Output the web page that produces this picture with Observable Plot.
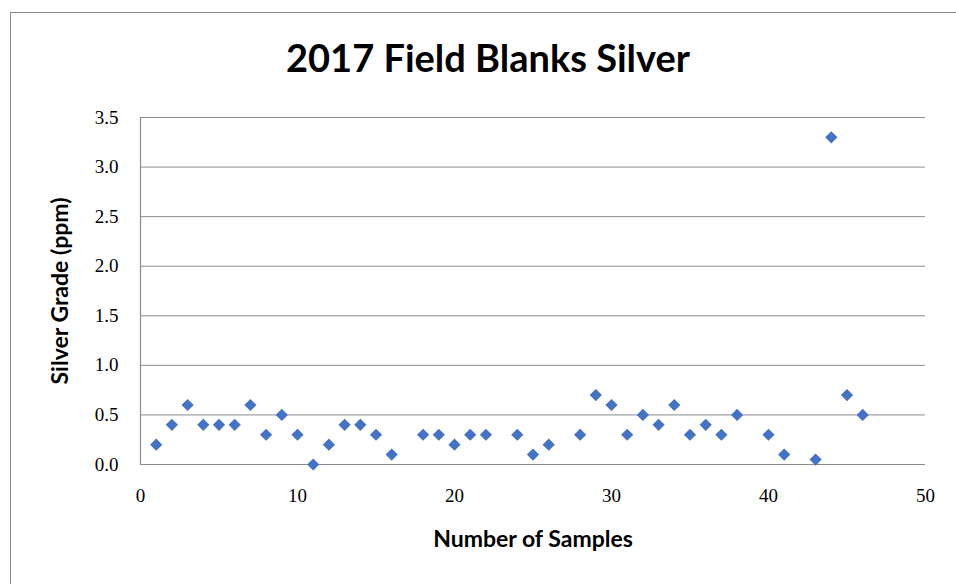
<!DOCTYPE html>
<html>
<head>
<meta charset="utf-8">
<script src="https://cdn.jsdelivr.net/npm/d3@7"></script>
<script src="https://cdn.jsdelivr.net/npm/@observablehq/plot@0.6"></script>
<style>
  html, body { margin: 0; padding: 0; background: #fff; overflow: hidden; }
  #wrap { position: relative; width: 956px; height: 584px; }
  #frame { position: absolute; left: 10px; top: 12px; width: 960px; height: 600px; border: 1px solid #8c8c8c; box-sizing: border-box; pointer-events: none; }
  #chart { position: absolute; left: 0; top: 0; }
</style>
</head>
<body>
<div id="wrap"><div id="frame"></div><div id="chart"></div></div>
<script>
const title = "2017 Field Blanks Silver";
const xLabel = "Number of Samples";
const yLabel = "Silver Grade (ppm)";
const sampleNo = [1,2,3,4,5,6,7,8,9,10,11,12,13,14,15,16,18,19,20,21,22,24,25,26,28,29,30,31,32,33,34,35,36,37,38,40,41,43,44,45,46];
const silverPpm = [0.2,0.4,0.6,0.4,0.4,0.4,0.6,0.3,0.5,0.3,0.0,0.2,0.4,0.4,0.3,0.1,0.3,0.3,0.2,0.3,0.3,0.3,0.1,0.2,0.3,0.7,0.6,0.3,0.5,0.4,0.6,0.3,0.4,0.3,0.5,0.3,0.1,0.05,3.3,0.7,0.5];
const xTicks = [0,10,20,30,40,50];
const yTicks = [0,0.5,1,1.5,2,2.5,3,3.5];
const gridLines = [0.5,1,1.5,2,2.5,3,3.5];

const data = sampleNo.map((s, i) => ({sample: s, ppm: silverPpm[i]}));

const serif = "'Liberation Serif', 'DejaVu Serif', serif";
const sans = "Lato, 'Open Sans', sans-serif";

const plot = Plot.plot({
  width: 956,
  height: 584,
  marginLeft: 140,
  marginRight: 31,
  marginTop: 117,
  marginBottom: 120,
  style: {background: "transparent", overflow: "visible"},
  x: {domain: [0, 50], ticks: xTicks, label: null},
  y: {domain: [0, 3.5], ticks: yTicks, label: null},
  marks: [
    Plot.ruleY(gridLines, {stroke: "#8c8c8c", strokeWidth: 1}),
    Plot.ruleY([0], {stroke: "#8c8c8c", strokeWidth: 1.2}),
    Plot.ruleX([0], {y1: 0, y2: 3.5, stroke: "#8c8c8c", strokeWidth: 1.2}),
    Plot.axisY({ticks: yTicks, tickSize: 0, tickPadding: 22, tickFormat: d3.format(".1f"), fontSize: 19, fontFamily: serif, fill: "#000", label: null}),
    Plot.axisX({ticks: xTicks, tickSize: 0, tickPadding: 24, tickFormat: d => d, fontSize: 19, fontFamily: serif, fill: "#000", label: null}),
    Plot.dot(data, {x: "sample", y: "ppm", symbol: "diamond2", r: 5.5, fill: "#4472C4", stroke: "none"}),
    Plot.text([title], {frameAnchor: "top", lineAnchor: "middle", dx: -45, dy: -58, fontSize: 38, fontWeight: "bold", fontFamily: sans, fill: "#000"}),
    Plot.text([xLabel], {frameAnchor: "bottom", lineAnchor: "middle", dy: 75, fontSize: 23, fontWeight: "bold", fontFamily: sans, fill: "#000"}),
    Plot.text([yLabel], {frameAnchor: "left", textAnchor: "middle", lineAnchor: "middle", dx: -80, rotate: -90, fontSize: 23, fontWeight: "bold", fontFamily: sans, fill: "#000"})
  ]
});
document.getElementById("chart").appendChild(plot);
</script>
</body>
</html>
